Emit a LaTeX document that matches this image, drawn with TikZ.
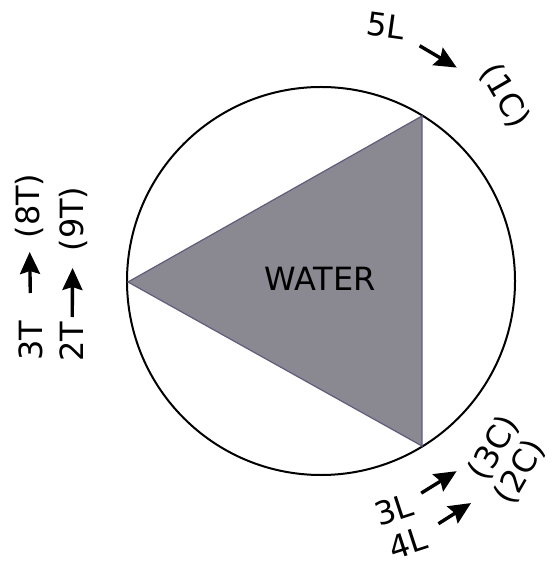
\documentclass[tikz,border=0pt]{standalone}
\usepackage{fontspec}
\setmainfont{DejaVu Sans}
\usepackage{tikz}
\usetikzlibrary{arrows.meta}
\definecolor{watergray}{RGB}{138,136,145}
\definecolor{wateredge}{RGB}{98,92,124}

\begin{document}
\begin{tikzpicture}[x=0.5pt,y=-0.5pt,
    lbl/.style={font=\fontsize{16}{18}\selectfont, inner sep=0pt},
    arr/.style={-{Stealth[length=11pt,width=10pt,inset=1.5pt]}, line width=1.7pt}]
    \useasboundingbox (0,0) rectangle (552,565);
    \draw[line width=1pt] (321,281) circle (194);
    \filldraw[fill=watergray, draw=wateredge, line width=0.6pt] (128,282) -- (422,116) -- (422,446) -- cycle;
    \node[lbl] (water) at (320,279) {WATER};
    % top right
    \node[lbl, rotate=-8] (l5) at (386,26) {5L};
    \node[lbl, rotate=-60] (c1) at (505,96) {(1C)};
    \draw[arr, shorten <=19.5pt, shorten >=28pt] (l5.center) -- (c1.center);
    % left
    \node[lbl, rotate=90] (t3) at (31,341) {3T};
    \node[lbl, rotate=90] (t8) at (29,206) {(8T)};
    \node[lbl, rotate=90] (t2) at (72,342) {2T};
    \node[lbl, rotate=90] (t9) at (73,219) {(9T)};
    \draw[arr, shorten <=24pt, shorten >=23pt] (t3.center) -- (t8.center);
    \draw[arr, shorten <=12.5pt, shorten >=24.5pt] (t2.center) -- (t9.center);
    % bottom right
    \node[lbl, rotate=18] (l3) at (394,510) {3L};
    \node[lbl, rotate=60] (c3) at (494,448) {(3C)};
    \node[lbl, rotate=18] (l4) at (408,543) {4L};
    \node[lbl, rotate=60] (c2) at (520,472) {(2C)};
    \draw[arr, shorten <=16pt, shorten >=22pt] (l3.center) -- (c3.center);
    \draw[arr, shorten <=18pt, shorten >=29pt] (l4.center) -- (c2.center);
\end{tikzpicture}
\end{document}
